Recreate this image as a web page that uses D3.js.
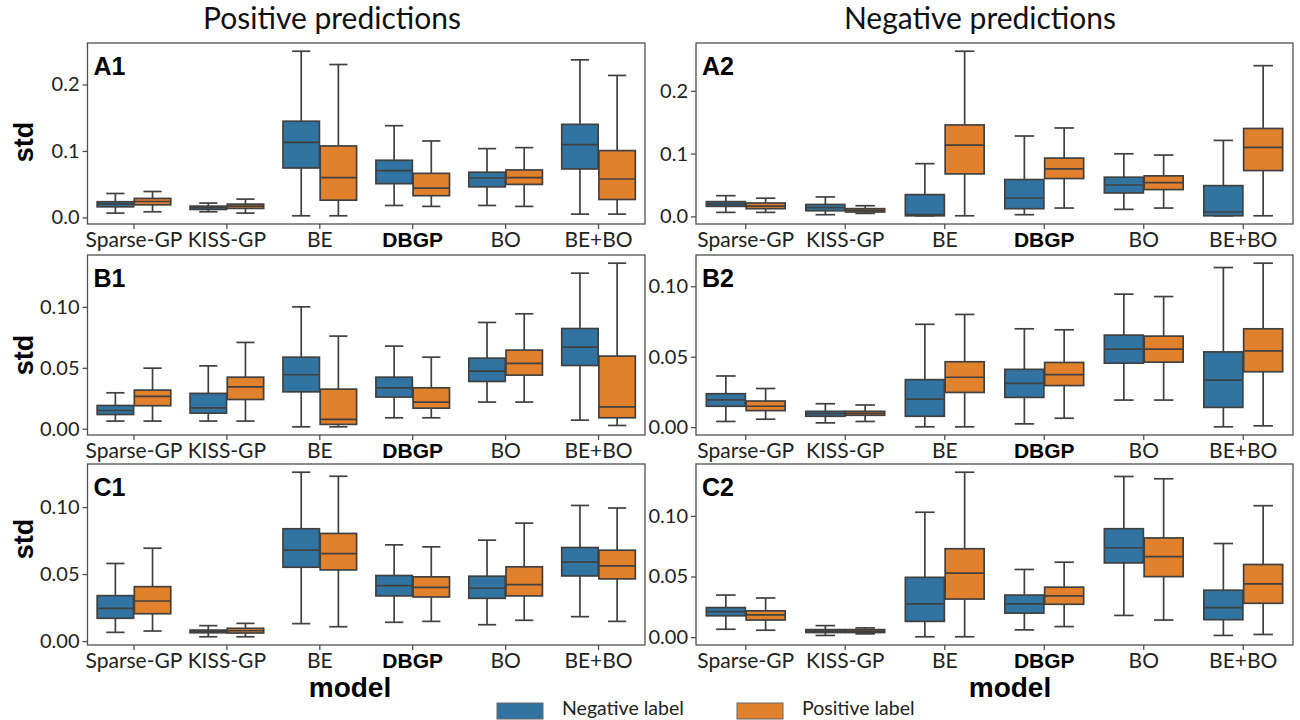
<!DOCTYPE html>
<html><head><meta charset="utf-8">
<script src="https://cdn.jsdelivr.net/npm/d3@7"></script>
<style>body{margin:0;background:#fff;} svg{display:block;}</style>
</head><body><svg id="chart" width="1300" height="720"></svg>
<script>
// ---------------- DATA ----------------
const categories = ["Sparse-GP", "KISS-GP", "BE", "DBGP", "BO", "BE+BO"];
const hueLabels = ["Negative label", "Positive label"];
const columnTitles = ["Positive predictions", "Negative predictions"];
const panelNames = ["A1", "A2", "B1", "B2", "C1", "C2"];
const yTicksA = [0, 0.1, 0.2];
const yTicksBC = [0, 0.05, 0.10];
// each entry: [whisker low, Q1, median, Q3, whisker high]
const A1_negative = [[0.0065,0.016,0.020,0.0236,0.036],[0.0085,0.012,0.0146,0.017,0.0216],[0.0025,0.0744,0.113,0.1447,0.250],[0.018,0.0508,0.0704,0.086,0.138],[0.018,0.046,0.0593,0.068,0.1035],[0.005,0.0729,0.1095,0.140,0.237]];
const A1_positive = [[0.0085,0.019,0.024,0.0286,0.039],[0.0065,0.0136,0.017,0.020,0.0276],[0.0025,0.026,0.060,0.1075,0.230],[0.0166,0.0327,0.044,0.0663,0.115],[0.0166,0.0497,0.060,0.0714,0.105],[0.005,0.027,0.0578,0.1005,0.2136]];
const A2_negative = [[0.0064,0.016,0.0197,0.0235,0.033],[0.0027,0.009,0.0139,0.019,0.031],[0.001,0.001,0.0027,0.0347,0.084],[0.0027,0.0123,0.0293,0.0587,0.128],[0.0112,0.0373,0.050,0.0624,0.0997],[0.001,0.001,0.007,0.049,0.121]];
const A2_positive = [[0.0064,0.0123,0.0165,0.0213,0.029],[0.0048,0.007,0.0096,0.0123,0.017],[0.001,0.0677,0.1136,0.1456,0.263],[0.0133,0.0603,0.0757,0.0928,0.1408],[0.0133,0.0427,0.0539,0.0645,0.0976],[0.001,0.073,0.110,0.140,0.240]];
const B1_negative = [[0.0063,0.0117,0.015,0.0191,0.0295],[0.0063,0.0128,0.0172,0.029,0.0516],[0.0016,0.0303,0.0443,0.0587,0.100],[0.009,0.026,0.0336,0.0423,0.0678],[0.0219,0.0388,0.0473,0.0579,0.0872],[0.0071,0.0519,0.0669,0.0822,0.1276]];
const B1_positive = [[0.0063,0.0189,0.0265,0.0317,0.0497],[0.0063,0.024,0.0344,0.0423,0.0708],[0.0016,0.0036,0.0077,0.0325,0.076],[0.009,0.0169,0.0219,0.0336,0.0587],[0.0219,0.044,0.0536,0.0645,0.0943],[0.0027,0.009,0.018,0.0596,0.1358]];
const B2_negative = [[0.004,0.0148,0.0194,0.0237,0.0363],[0.003,0.0077,0.0096,0.0112,0.0166],[0.0002,0.0077,0.0199,0.0337,0.073],[0.0023,0.0211,0.0311,0.041,0.0698],[0.0192,0.0454,0.0553,0.0653,0.0944],[0.0002,0.014,0.0333,0.0534,0.1133]];
const B2_positive = [[0.0056,0.0117,0.0148,0.0185,0.0274],[0.004,0.0084,0.0098,0.0112,0.0157],[0.0002,0.0246,0.0354,0.0464,0.080],[0.0063,0.0295,0.0372,0.0459,0.0691],[0.0192,0.0461,0.0553,0.0646,0.0927],[0.0009,0.0393,0.0541,0.0698,0.1164]];
const C1_negative = [[0.0065,0.017,0.0244,0.0339,0.0579],[0.0032,0.0062,0.0072,0.0082,0.0115],[0.013,0.0551,0.0678,0.0838,0.126],[0.014,0.0337,0.0414,0.0489,0.0718],[0.0122,0.0319,0.0394,0.0484,0.0753],[0.0182,0.0486,0.0589,0.0698,0.1012]];
const C1_positive = [[0.0075,0.0204,0.0299,0.0406,0.0693],[0.0032,0.006,0.0077,0.0095,0.0132],[0.0107,0.0531,0.0653,0.0803,0.123],[0.0147,0.0329,0.0401,0.0479,0.0703],[0.0155,0.0337,0.0421,0.0554,0.088],[0.0147,0.0464,0.0561,0.0678,0.0993]];
const C2_negative = [[0.0065,0.0176,0.0211,0.0244,0.0347],[0.0014,0.0038,0.0049,0.0062,0.0095],[0.0003,0.013,0.0274,0.0493,0.103],[0.006,0.0198,0.0274,0.0347,0.0558],[0.0179,0.0612,0.0737,0.0894,0.1325],[0.0014,0.0144,0.0244,0.0387,0.0772]];
const C2_positive = [[0.0057,0.0141,0.0184,0.0217,0.0323],[0.0027,0.0038,0.0049,0.0062,0.0076],[0.0003,0.0314,0.0528,0.0729,0.136],[0.0087,0.0271,0.0341,0.0412,0.0618],[0.0141,0.0499,0.0664,0.0818,0.1306],[0.0022,0.0279,0.044,0.0599,0.1084]];

// ---------------- STYLE / LAYOUT ----------------
const hueColors = ["#3274a1", "#e1812c"];
const lineColor = "#404040";
const frameColor = "#505050";
const tickFont = "Lato, 'Open Sans', sans-serif";
const boldFont = "'Liberation Sans', Arial, sans-serif";
const colX = [[87.5, 645], [696, 1293]];
const rowY = [[43, 224], [255, 435], [464, 645]];
const stdY = [142, 355, 539];

const panels = [
  {name: "A1", neg: A1_negative, pos: A1_positive, col: 0, row: 0, ticks: yTicksA, fmt: ".1f"},
  {name: "A2", neg: A2_negative, pos: A2_positive, col: 1, row: 0, ticks: yTicksA, fmt: ".1f"},
  {name: "B1", neg: B1_negative, pos: B1_positive, col: 0, row: 1, ticks: yTicksBC, fmt: ".2f"},
  {name: "B2", neg: B2_negative, pos: B2_positive, col: 1, row: 1, ticks: yTicksBC, fmt: ".2f"},
  {name: "C1", neg: C1_negative, pos: C1_positive, col: 0, row: 2, ticks: yTicksBC, fmt: ".2f"},
  {name: "C2", neg: C2_negative, pos: C2_positive, col: 1, row: 2, ticks: yTicksBC, fmt: ".2f"}
];

const svg = d3.select("#chart");

// column titles
columnTitles.forEach((t, i) => {
  svg.append("text").attr("x", [332, 980][i]).attr("y", 29)
    .attr("text-anchor", "middle").attr("font-family", tickFont)
    .attr("font-size", 30).attr("fill", "#111").text(t);
});

panels.forEach(p => {
  const [x0, x1] = colX[p.col];
  const [y0, y1] = rowY[p.row];
  const all = p.neg.concat(p.pos).flat();
  const mn = d3.min(all), mx = d3.max(all), r = mx - mn;
  const x = d3.scaleBand().domain(categories).range([x0, x1]).paddingInner(0).paddingOuter(0);
  const y = d3.scaleLinear().domain([mn - 0.05 * r, mx + 0.05 * r]).range([y1, y0]);
  const hue = d3.scaleBand().domain([0, 1]).range([0, x.bandwidth() * 0.8]).padding(0);
  const boxW = x.bandwidth() * 0.8 / 2 * 0.98;

  const g = svg.append("g");
  g.append("rect").attr("x", x0).attr("y", y0).attr("width", x1 - x0).attr("height", y1 - y0)
    .attr("fill", "#fff");

  [p.neg, p.pos].forEach((series, h) => {
    categories.forEach((c, i) => {
      const s = series[i];
      const cx = x(c) + x.bandwidth() * 0.1 + hue(h) + hue.bandwidth() / 2;
      const bg = g.append("g");
      bg.append("line").attr("x1", cx).attr("x2", cx).attr("y1", y(s[0])).attr("y2", y(s[1]))
        .attr("stroke", lineColor).attr("stroke-width", 1.7);
      bg.append("line").attr("x1", cx).attr("x2", cx).attr("y1", y(s[3])).attr("y2", y(s[4]))
        .attr("stroke", lineColor).attr("stroke-width", 1.7);
      [s[0], s[4]].forEach(v => {
        bg.append("line").attr("x1", cx - boxW / 4).attr("x2", cx + boxW / 4)
          .attr("y1", y(v)).attr("y2", y(v)).attr("stroke", lineColor).attr("stroke-width", 1.7);
      });
      bg.append("rect").attr("x", cx - boxW / 2).attr("width", boxW)
        .attr("y", y(s[3])).attr("height", Math.max(0.5, y(s[1]) - y(s[3])))
        .attr("fill", hueColors[h]).attr("stroke", lineColor).attr("stroke-width", 1.7);
      bg.append("line").attr("x1", cx - boxW / 2).attr("x2", cx + boxW / 2)
        .attr("y1", y(s[2])).attr("y2", y(s[2])).attr("stroke", lineColor).attr("stroke-width", 1.7);
    });
  });

  g.append("rect").attr("x", x0).attr("y", y0).attr("width", x1 - x0).attr("height", y1 - y0)
    .attr("fill", "none").attr("stroke", frameColor).attr("stroke-width", 1.3);

  const ya = g.append("g").attr("transform", `translate(${x0},0)`)
    .call(d3.axisLeft(y).tickValues(p.ticks).tickFormat(d3.format(p.fmt)).tickSize(5).tickPadding(3));
  ya.select(".domain").remove();
  ya.selectAll("line").attr("stroke", frameColor).attr("stroke-width", 1.3);
  ya.selectAll("text").attr("font-family", tickFont).attr("font-size", 20).attr("fill", "#222");

  const xa = g.append("g").attr("transform", `translate(0,${y1})`)
    .call(d3.axisBottom(x).tickSize(5).tickPadding(3));
  xa.select(".domain").remove();
  xa.selectAll("line").attr("stroke", frameColor).attr("stroke-width", 1.3);
  xa.selectAll("text").attr("font-family", d => d === "DBGP" ? boldFont : tickFont)
    .attr("font-weight", d => d === "DBGP" ? "bold" : "normal")
    .attr("font-size", 21).attr("fill", d => d === "DBGP" ? "#000" : "#222");

  g.append("text").attr("x", x0 + 6).attr("y", y0 + 32).attr("font-family", boldFont)
    .attr("font-weight", "bold").attr("font-size", 25).attr("fill", "#000").text(p.name);

  if (p.col === 0) {
    svg.append("text").attr("transform", `translate(33,${stdY[p.row]}) rotate(-90)`)
      .attr("text-anchor", "middle").attr("font-family", boldFont).attr("font-weight", "bold")
      .attr("font-size", 27).attr("fill", "#000").text("std");
  }
  if (p.row === 2) {
    svg.append("text").attr("x", [350, 1010][p.col]).attr("y", 697).attr("text-anchor", "middle")
      .attr("font-family", boldFont).attr("font-weight", "bold").attr("font-size", 28)
      .attr("fill", "#000").text("model");
  }
});

// legend
const legX = [497, 737];
hueLabels.forEach((lab, i) => {
  svg.append("rect").attr("x", legX[i]).attr("y", 703).attr("width", 46).attr("height", 16)
    .attr("fill", hueColors[i]).attr("stroke", "#666").attr("stroke-width", 1);
  svg.append("text").attr("x", legX[i] + 65).attr("y", 715).attr("font-family", tickFont)
    .attr("font-size", 19.5).attr("fill", "#222").text(lab);
});
</script>
</body></html>
